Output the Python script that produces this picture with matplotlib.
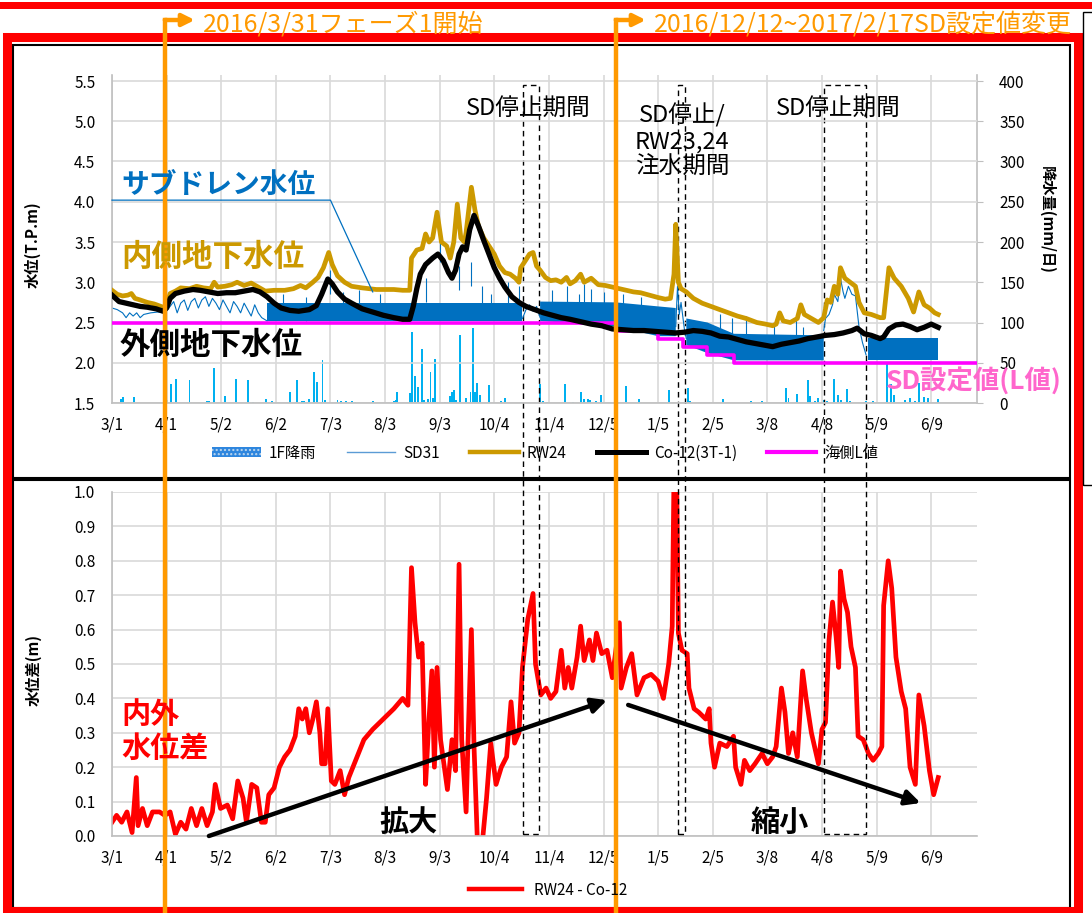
import numpy as np
import matplotlib.pyplot as plt
import matplotlib.transforms as mtransforms
from matplotlib.patches import Rectangle, Patch
from matplotlib.lines import Line2D

plt.rcParams['font.family'] = ['Noto Sans CJK JP', 'DejaVu Sans']

W, H = 1092, 913
nan = np.nan

# DATA ##########################################
# x = days since 2016/3/1
xtick_days = [0, 31, 62, 93, 124, 155, 186, 217, 248, 279, 310, 341, 372, 403, 434, 465]
xtick_labels = ['3/1', '4/1', '5/2', '6/2', '7/3', '8/3', '9/3', '10/4', '11/4', '12/5',
                '1/5', '2/5', '3/8', '4/8', '5/9', '6/9']

# RW24 (inside groundwater level)
rw_day = [0, 3, 6, 9, 11, 13, 16, 20, 24, 29, 31, 33, 36, 39, 44, 48, 52, 56, 58, 60, 64, 68, 71,
          75, 79, 83, 87, 92, 98, 103, 107, 110, 114, 117, 120, 123, 125, 128, 132, 136, 142, 150,
          160, 165, 169, 170, 173, 176, 178, 180, 182, 184.5, 187, 190, 192, 194, 196, 198, 200,
          201, 204, 206, 208, 211, 214, 217, 220, 223, 226, 229, 231, 232, 235, 237, 239, 241, 243,
          246, 249, 252, 255, 258, 260, 263, 266, 268, 272, 276, 280, 284, 288, 292, 296, 300, 305,
          310, 314, 317, 319, 320, 321.5, 323, 326, 330, 335, 340, 345, 350, 355, 360, 366, 371,
          375, 377, 379, 381, 385, 389, 391, 393, 397, 401, 404, 406, 408, 410, 412, 413.5, 416,
          419, 422, 424, 427, 431, 436, 438, 441, 444, 448, 452, 455, 458, 461, 464, 467, 469]
rw_val = [2.90, 2.85, 2.83, 2.84, 2.86, 2.80, 2.78, 2.75, 2.73, 2.69, 2.72, 2.86, 2.89, 2.93, 2.92,
          2.95, 2.93, 2.92, 3.00, 2.94, 2.95, 2.97, 3.00, 2.96, 2.99, 2.94, 2.89, 2.90, 2.90, 2.92,
          2.96, 2.93, 3.00, 3.06, 3.18, 3.37, 3.22, 3.08, 3.00, 2.95, 2.93, 2.91, 2.91, 2.90, 2.90,
          3.30, 3.40, 3.42, 3.60, 3.50, 3.55, 3.87, 3.50, 3.45, 3.30, 3.50, 3.97, 3.55, 3.50, 3.62,
          4.18, 3.90, 3.70, 3.55, 3.45, 3.35, 3.20, 3.12, 3.10, 3.05, 3.00, 3.18, 3.28, 3.35, 3.37,
          3.20, 3.15, 3.06, 3.02, 3.03, 3.00, 3.06, 2.98, 3.02, 3.10, 3.00, 3.05, 2.97, 2.96, 2.94,
          2.92, 2.90, 2.88, 2.87, 2.84, 2.81, 2.79, 2.80, 3.10, 3.72, 3.00, 2.92, 2.88, 2.80, 2.74,
          2.70, 2.66, 2.62, 2.58, 2.55, 2.50, 2.48, 2.46, 2.48, 2.62, 2.52, 2.50, 2.55, 2.72, 2.60,
          2.55, 2.50, 2.56, 2.78, 2.75, 2.95, 2.85, 3.18, 3.05, 3.00, 2.95, 2.75, 2.62, 2.60, 2.56,
          2.56, 3.18, 3.05, 2.95, 2.80, 2.63, 2.88, 2.72, 2.68, 2.62, 2.60]

# Co-12 (outside groundwater level)
co_day = [0, 4, 8, 12, 16, 20, 25, 29, 31, 33, 36, 41, 46, 50, 55, 60, 65, 70, 75, 80, 84, 88, 92,
          96, 101, 106, 112, 116, 119, 122.5, 125, 128, 132, 136, 142, 148, 154, 160, 165, 169, 171,
          173, 175, 178, 182, 185, 188, 191, 193, 195, 197, 199, 201, 203, 205.5, 208, 211, 214,
          217, 220, 223, 227, 231, 235, 240, 245, 250, 255, 260, 266, 272, 278, 284, 290, 296, 302,
          308, 314, 320, 325, 330, 335, 340, 345, 350, 355, 360, 365, 370, 375, 380, 385, 390, 395,
          400, 405, 410, 415, 420, 423, 427, 431, 436, 438, 441, 445, 449, 453, 457, 461, 465, 469]
co_val = [2.84, 2.76, 2.74, 2.72, 2.70, 2.69, 2.67, 2.64, 2.68, 2.80, 2.86, 2.89, 2.91, 2.90, 2.88,
          2.86, 2.87, 2.87, 2.89, 2.91, 2.88, 2.82, 2.74, 2.68, 2.65, 2.64, 2.66, 2.71, 2.85, 3.04,
          2.98, 2.88, 2.79, 2.74, 2.67, 2.63, 2.59, 2.56, 2.54, 2.54, 2.70, 2.92, 3.10, 3.22, 3.30,
          3.35, 3.27, 3.12, 3.05, 3.15, 3.35, 3.44, 3.40, 3.65, 3.83, 3.70, 3.52, 3.35, 3.18, 3.05,
          2.94, 2.82, 2.75, 2.70, 2.66, 2.62, 2.59, 2.56, 2.54, 2.51, 2.48, 2.46, 2.42, 2.41, 2.40,
          2.40, 2.39, 2.38, 2.37, 2.38, 2.40, 2.39, 2.37, 2.33, 2.32, 2.29, 2.26, 2.24, 2.22, 2.20,
          2.23, 2.25, 2.27, 2.30, 2.32, 2.34, 2.35, 2.37, 2.40, 2.43, 2.36, 2.34, 2.30, 2.32, 2.42,
          2.47, 2.48, 2.45, 2.41, 2.44, 2.48, 2.44]

# sea side L value (SD setting)
l_day = [0, 286, 310, 324, 338, 353, 491]
l_val = [2.5, 2.4, 2.3, 2.2, 2.1, 2.0, 2.0]

# SD31: single line parts, pumping band (low/high) and spikes
sd_line_day = [0, 3, 6, 8, 10, 12, 14, 16, 18, 22, 26, 30, 33, 35, 37, 39, 41, 43, 45, 47, 49, 51,
               53, 55, 57, 59, 61, 63, 65, 67, 69, 71, 73, 75, 77, 79, 81, 83, 85, 88, nan,
               233, 235, 237, 239, 241, 243, nan, 320, 321, 322, 323, 325, 326, nan,
               404, 405, 407, 409, 410, 412, 413.5, 415, 416, 418, 420, 422, 424, 426, 428]
sd_line_val = [2.68, 2.66, 2.62, 2.56, 2.62, 2.58, 2.62, 2.56, 2.60, 2.62, 2.63, 2.62, 2.70, 2.76,
               2.62, 2.74, 2.78, 2.65, 2.76, 2.80, 2.68, 2.78, 2.82, 2.70, 2.80, 2.74, 2.66, 2.78,
               2.70, 2.62, 2.76, 2.70, 2.62, 2.74, 2.66, 2.58, 2.72, 2.62, 2.56, 2.52, nan,
               2.55, 2.66, 2.72, 2.64, 2.70, 2.56, nan, 2.45, 2.95, 2.60, 2.75, 2.40, 2.30, nan,
               2.40, 2.55, 2.60, 2.72, 2.85, 2.76, 3.05, 2.88, 2.80, 2.95, 2.85, 2.83, 2.45, 2.25,
               2.10]
sd_band_day = [88, 233, nan, 243, 286, 310, 320, nan, 326, 338, 353, 404, nan, 429, 469]
sd_band_lo = [2.52, 2.52, nan, 2.52, 2.45, 2.33, 2.33, nan, 2.22, 2.12, 2.03, 2.03, nan, 2.03, 2.03]
sd_band_hi = [2.74, 2.74, nan, 2.76, 2.75, 2.70, 2.68, nan, 2.55, 2.50, 2.36, 2.34, nan, 2.31, 2.31]
sd_spike_day = [97, 110, 124, 131, 140, 152, 178, 186, 197, 204, 210, 215, 225, 231, 250, 258, 265,
                268, 272, 279, 290, 300, 345, 352, 360, 376, 388, 392]
sd_spike_top = [2.85, 2.82, 3.15, 2.88, 2.90, 2.85, 3.05, 3.55, 3.20, 3.25, 2.95, 2.85, 3.00, 2.95,
                2.90, 2.95, 2.85, 2.98, 2.92, 2.88, 2.85, 2.82, 2.60, 2.55, 2.58, 2.50, 2.55, 2.45]

# 1F rainfall (mm/day)
rain_day = [5, 6.5, 12.5, 31, 33.5, 36.5, 44, 54, 55, 58, 64, 70.5, 77, 80, 87.5, 91, 101, 105,
            108, 109, 112, 114.4, 116.6, 119.5, 121, 128, 130, 133, 136, 138, 148, 160, 161, 162,
            169, 170.5, 172, 173.5, 175.7, 177, 179.5, 180.8, 182, 183.3, 189, 192, 193, 194, 195,
            197.5, 201, 203.5, 205, 206, 207, 209, 214, 221, 223, 232, 243, 244.5, 247, 257,
            261.5, 266, 268, 270, 271.5, 274.5, 277.7, 286, 291.5, 299, 316, 327, 328, 347,
            362.5, 369, 382.5, 384, 389, 395, 396, 399, 401, 404, 406, 410, 412, 414, 417, 419,
            427, 428, 432, 440, 442, 444, 450, 453, 456, 458, 461, 463, 469]
rain_mm = [5.5, 7, 8, 4, 23, 30, 29, 2, 3, 44, 9, 30, 29, 1, 5, 2, 14, 29, 2, 3, 5, 38, 26, 53, 4,
           4, 3, 3, 2, 1, 2, 3, 4, 14, 12, 88, 33, 20, 67, 4, 5, 38, 6, 55, 1, 9, 14, 16, 4, 85, 6,
           14, 93, 14, 25, 10, 22, 2, 6, 1, 24, 2, 1, 24, 1, 14, 5, 5, 4, 3, 10, 2, 21, 5, 16, 19,
           3, 5, 2, 3, 19, 6, 11, 28, 9, 2, 6, 4, 3, 30, 10, 4, 17, 3, 1, 3, 2, 48, 24, 10, 4, 6,
           2, 25, 7, 6, 5]

# RW24 - Co-12 (level difference)
dd_day = [0, 2.6, 5.5, 8.5, 11.4, 13.8, 14.8, 17.3, 20, 23, 27, 30, 33, 36, 39, 42, 45, 48, 51,
          54, 57, 58.6, 61.6, 65.5, 68.5, 71.4, 74.4, 76.3, 79.3, 82.2, 84.8, 87, 89, 92, 95, 98,
          101, 104, 106, 108, 110, 112, 114, 116, 118, 119, 121, 122.5, 124.5, 126.5, 129.5, 132,
          134.4, 138.3, 143, 148, 154, 160, 165, 168, 170, 172, 174, 176, 178, 179.6, 181.6, 183,
          184.5, 186.5, 190.4, 193, 195, 197, 198.5, 201, 202, 204, 205.5, 207.5, 210, 212.6, 215,
          218, 221, 224, 226.5, 228.5, 231, 233, 236, 239, 240.4, 243.4, 246.4, 249, 252, 255,
          257, 259, 261, 264, 266, 268, 271, 273, 275, 278, 281, 284, 288, 289, 292, 295, 298,
          302, 306, 310, 313, 316, 318, 319, 320.5, 321.5, 323.5, 326.5, 327.5, 330.4, 333, 337,
          339, 340, 342, 345, 349, 352.8, 354, 357, 359, 362, 365, 369, 372, 375, 377, 380, 382,
          384, 386.4, 389, 392, 394, 397, 401, 403, 405, 407, 409, 411, 412.5, 413.5, 415.5,
          417.5, 419.5, 422, 423.5, 426.4, 429.4, 432, 435, 437, 438, 440.6, 442.6, 445, 448,
          450.5, 453, 456, 458, 461, 464, 466.4, 469]
dd_val = [0.04, 0.06, 0.04, 0.07, 0.01, 0.17, 0.03, 0.08, 0.03, 0.07, 0.07, 0.06, 0.07, 0.005,
          0.04, 0.02, 0.08, 0.03, 0.08, 0.03, 0.07, 0.15, 0.08, 0.09, 0.05, 0.16, 0.11, 0.04, 0.15,
          0.14, 0.04, 0.04, 0.12, 0.14, 0.20, 0.23, 0.25, 0.29, 0.37, 0.34, 0.37, 0.30, 0.34, 0.39,
          0.30, 0.21, 0.21, 0.37, 0.16, 0.15, 0.19, 0.12, 0.17, 0.22, 0.28, 0.31, 0.34, 0.37, 0.40,
          0.38, 0.78, 0.62, 0.52, 0.56, 0.15, 0.31, 0.48, 0.20, 0.49, 0.28, 0.135, 0.28, 0.19,
          0.79, 0.28, 0.07, 0.26, 0.60, 0.26, -0.03, -0.03, 0.11, 0.27, 0.15, 0.20, 0.23, 0.39,
          0.27, 0.30, 0.49, 0.63, 0.705, 0.50, 0.41, 0.43, 0.40, 0.42, 0.54, 0.43, 0.49, 0.43,
          0.52, 0.61, 0.51, 0.57, 0.51, 0.59, 0.53, 0.54, 0.46, 0.62, 0.43, 0.49, 0.53, 0.41,
          0.46, 0.47, 0.45, 0.40, 0.50, 0.61, 1.05, 1.05, 0.59, 0.54, 0.53, 0.43, 0.37, 0.36,
          0.34, 0.37, 0.27, 0.20, 0.27, 0.26, 0.29, 0.20, 0.15, 0.22, 0.19, 0.21, 0.24, 0.21,
          0.23, 0.26, 0.43, 0.36, 0.24, 0.30, 0.23, 0.48, 0.40, 0.30, 0.21, 0.31, 0.33, 0.57,
          0.68, 0.58, 0.49, 0.77, 0.69, 0.65, 0.55, 0.49, 0.29, 0.28, 0.24, 0.22, 0.24, 0.26,
          0.67, 0.80, 0.72, 0.52, 0.42, 0.37, 0.20, 0.15, 0.41, 0.32, 0.19, 0.12, 0.17]

# events
phase_day = [30, 286]
phase_text = ['2016/3/31フェーズ1開始', '2016/12/12~2017/2/17SD設定値変更']
stop_start = [233.5, 321, 404]
stop_end = [242.5, 325, 428]

# COLOURS #######################################
c_rw = '#CC9900'
c_sd = '#0070C0'
c_rain = '#00B0F0'
c_l = '#FF00FF'
c_grid = '#D9D9D9'
c_axis = '#BFBFBF'
orange = '#FF9900'


def fx(px):
    return px / W


def fy(py):
    return 1 - py / H


def style_axis(ax):
    for s in ['top', 'right']:
        ax.spines[s].set_visible(False)
    for s in ['left', 'bottom']:
        ax.spines[s].set_color(c_axis)
        ax.spines[s].set_linewidth(1.2)
    ax.set_xlim(0, 491)
    ax.set_xticks(xtick_days)
    ax.set_xticklabels(xtick_labels)
    ax.tick_params(axis='both', length=0, labelsize=11)
    ax.tick_params(axis='x', pad=10)
    ax.tick_params(axis='y', pad=12)
    ax.grid(True, color=c_grid, lw=1.2)
    ax.set_axisbelow(True)


fig = plt.figure(figsize=(W / 100, H / 100), dpi=100)

# TOP PANEL #####################################
ax1 = fig.add_axes([fx(112), fy(403), (977 - 112) / W, (403 - 75) / H])
ax1r = ax1.twinx()
ax1.set_zorder(ax1r.get_zorder() + 1)
ax1.patch.set_visible(False)
ax1r.patch.set_visible(True)
ax1r.patch.set_facecolor('white')

style_axis(ax1)
ax1.set_ylim(1.5, 1.5 + (403 - 75) / 80.5)
ax1.set_yticks(np.arange(1.5, 5.51, 0.5))
ax1.set_yticklabels([f'{v:.1f}' for v in np.arange(1.5, 5.51, 0.5)])

ax1r.set_ylim(0, (403 - 75) / 80.5 * 100)
ax1r.set_yticks(np.arange(0, 401, 50))
for s in ['top', 'left', 'bottom']:
    ax1r.spines[s].set_visible(False)
ax1r.spines['right'].set_color(c_axis)
ax1r.spines['right'].set_linewidth(1.2)
ax1r.tick_params(axis='y', length=4, color=c_axis, labelsize=11, pad=12)

ax1r.bar(rain_day, rain_mm, width=1.1, color=c_rain, linewidth=0)

ax1.fill_between(sd_band_day, sd_band_lo, sd_band_hi, color=c_sd, linewidth=0, zorder=2)
ax1.plot(sd_line_day, sd_line_val, color=c_sd, lw=0.8, zorder=2)
ax1.vlines(sd_spike_day, [v - 0.3 for v in sd_spike_top], sd_spike_top, color=c_sd, lw=0.8, zorder=2)
ax1.plot(l_day, l_val, color=c_l, lw=2.6, drawstyle='steps-post', zorder=3)
ax1.plot(rw_day, rw_val, color=c_rw, lw=3.4, zorder=4, solid_joinstyle='round')
ax1.plot(co_day, co_val, color='black', lw=3.8, zorder=5, solid_joinstyle='round')

# leader line for the sub-drain label
ax1.plot([0, 124, 148], [4.02, 4.02, 2.88], color=c_sd, lw=0.9, zorder=6, clip_on=False)

# BOTTOM PANEL ##################################
ax2 = fig.add_axes([fx(112), fy(836), (977 - 112) / W, (836 - 492) / H])
style_axis(ax2)
ax2.set_ylim(0, 1.0)
ax2.set_yticks(np.arange(0, 1.01, 0.1))
ax2.set_yticklabels([f'{v:.1f}' for v in np.arange(0, 1.01, 0.1)])
ax2.plot(dd_day, dd_val, color='#FF0000', lw=3.4, solid_joinstyle='round')

arrow_kw = dict(arrowstyle='-|>', color='black', lw=3.2, mutation_scale=22, shrinkA=0, shrinkB=0)
ax2.annotate('', xy=(281, 0.395), xytext=(55, 0.0), arrowprops=arrow_kw, annotation_clip=False)
ax2.annotate('', xy=(459, 0.096), xytext=(293, 0.381), arrowprops=arrow_kw, annotation_clip=False)

# TEXTS #########################################
fig.text(fx(33), fy(245), '水位(T.P.m)', rotation=90, ha='center', va='center',
         fontsize=11, fontweight='bold')
fig.text(fx(1047), fy(220), '降水量(mm/日)', rotation=270, ha='center', va='center',
         fontsize=11, fontweight='bold')
fig.text(fx(33), fy(670), '水位差(m)', rotation=90, ha='center', va='center',
         fontsize=11, fontweight='bold')

fig.text(fx(121), fy(185), 'サブドレン水位', color=c_sd, fontsize=20, fontweight='bold', va='center')
fig.text(fx(121), fy(257), '内側地下水位', color=c_rw, fontsize=22, fontweight='bold', va='center')
fig.text(fx(120), fy(345), '外側地下水位', color='black', fontsize=22, fontweight='bold', va='center')
fig.text(fx(528), fy(108), 'SD停止期間', fontsize=17, ha='center', va='center')
fig.text(fx(682), fy(141), 'SD停止/\nRW23,24\n注水期間', fontsize=17, ha='center', va='center',
         linespacing=1.15)
fig.text(fx(838), fy(108), 'SD停止期間', fontsize=17, ha='center', va='center')
fig.text(fx(886), fy(381), 'SD設定値(L値)', color='#FF66CC', fontsize=19, fontweight='bold',
         va='center')

fig.text(fx(121), fy(731), '内外\n水位差', color='#FF0000', fontsize=21, fontweight='bold',
         va='center', linespacing=1.15)
fig.text(fx(408), fy(822), '拡大', fontsize=21, fontweight='bold', ha='center', va='center')
fig.text(fx(780), fy(822), '縮小', fontsize=21, fontweight='bold', ha='center', va='center')

# LEGENDS #######################################
handles = [Patch(facecolor='#2E86DE', edgecolor='#BDD7EE', hatch='....', lw=0),
           Line2D([], [], color='#5B9BD5', lw=1),
           Line2D([], [], color=c_rw, lw=3.2),
           Line2D([], [], color='black', lw=3.6),
           Line2D([], [], color=c_l, lw=3)]
labels = ['1F降雨', 'SD31', 'RW24', 'Co-12(3T-1)', '海側L値']
fig.legend(handles, labels, loc='center', bbox_to_anchor=(fx(545), fy(453)), ncol=5,
           frameon=False, fontsize=11, handlelength=3.2, columnspacing=2.0, handletextpad=0.5)
fig.legend([Line2D([], [], color='#FF0000', lw=3.2)], ['RW24 - Co-12'], loc='center',
           bbox_to_anchor=(fx(548), fy(890)), frameon=False, fontsize=11, handlelength=3.5)

# FRAMES, STOP PERIODS AND PHASE MARKERS ########
fig.add_artist(Rectangle((0, fy(9)), 1, 7 / H, transform=fig.transFigure, color='#FF0000', lw=0))
fig.add_artist(Rectangle((fx(13), fy(478)), (1070 - 13) / W, (478 - 45) / H, transform=fig.transFigure,
                         fill=False, ec='black', lw=1.5))
fig.add_artist(Rectangle((fx(13), fy(908)), (1070 - 13) / W, (908 - 480) / H, transform=fig.transFigure,
                         fill=False, ec='black', lw=1.5))
fig.add_artist(Rectangle((fx(7), fy(911)), (1078 - 7) / W, (911 - 37.5) / H, transform=fig.transFigure,
                         fill=False, ec='#FF0000', lw=6.5))
fig.add_artist(Rectangle((fx(1083), fy(485)), 20 / W, (485 - 12) / H, transform=fig.transFigure,
                         fill=False, ec='black', lw=1))

trans = mtransforms.blended_transform_factory(ax1.transData, fig.transFigure)
for s, e in zip(stop_start, stop_end):
    fig.add_artist(Rectangle((s, fy(834)), e - s, fy(85) - fy(834), transform=trans, fill=False,
                             ec='black', lw=1, ls=(0, (4, 3))))

for d, txt in zip(phase_day, phase_text):
    fig.add_artist(Line2D([d, d], [0, fy(20)], transform=trans, color=orange, lw=3.2))
    ax1.annotate('', xy=(d, fy(20)), xycoords=trans, xytext=(30, 0), textcoords='offset pixels',
                 arrowprops=dict(arrowstyle='<|-', color=orange, lw=3.2, mutation_scale=18,
                                 shrinkA=0, shrinkB=0), annotation_clip=False)
    ax1.annotate(txt, xy=(d, fy(24)), xycoords=trans, xytext=(38, 0), textcoords='offset pixels',
                 color=orange, fontsize=18, va='center', ha='left', annotation_clip=False)

fig.savefig('out.png', dpi=100)
